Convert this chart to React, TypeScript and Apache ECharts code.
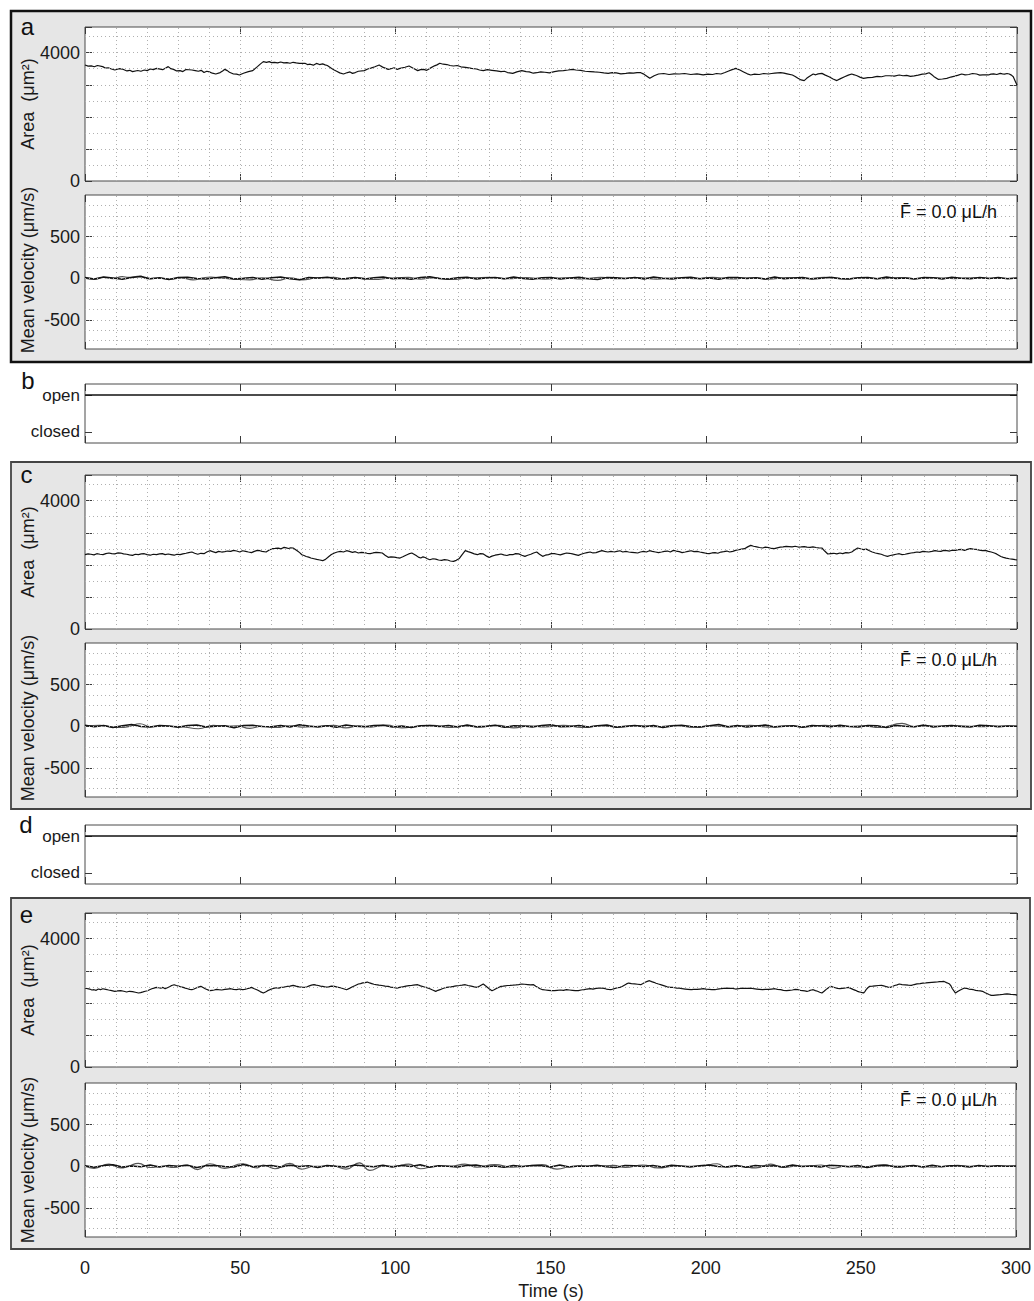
import React, { useEffect, useRef } from "react";
import * as echarts from "echarts";

// ---------- tick / label lists ----------
const TIME_TICKS = [0, 50, 100, 150, 200, 250, 300];
const TIME_MINOR = [10, 20, 30, 40, 50, 60, 70, 80, 90, 100, 110, 120, 130, 140, 150, 160, 170, 180, 190, 200, 210, 220, 230, 240, 250, 260, 270, 280, 290];
const AREA_LABELS = [0, 4000];
const AREA_MINOR = [500, 1000, 1500, 2000, 2500, 3000, 3500, 4000, 4500];
const VEL_TICKS = [-500, 0, 500];
const VEL_MINOR = [-750, -625, -500, -375, -250, -125, 0, 125, 250, 375, 500, 625, 750, 875];
const GATE_LEVELS = ["closed", "open"];
const F_LABEL = "F\u0304 = 0.0 \u03bcL/h";
const PANEL_LETTERS = ["a", "b", "c", "d", "e"];
const AREA_NAME = "Area  (\u03bcm\u00b2)";
const VEL_NAME = "Mean velocity (\u03bcm/s)";
const TIME_NAME = "Time (s)";

// ---------- data: [time s, area µm²] ----------
const areaA: [number, number][] = [
  [0, 3615], [1, 3580], [2, 3590], [3, 3560], [4, 3600], [5.7, 3565], [6.5, 3520], [7.5, 3530], [8.5, 3490], [9.6, 3460], [11, 3500], [12, 3490], [13.5, 3430], [14.4, 3450], [15.3, 3410], [17, 3445],
  [18, 3420], [19.1, 3460], [20, 3440], [21, 3490], [22, 3470], [23, 3510], [25, 3470], [26, 3520], [26.8, 3565], [27.6, 3500], [28.5, 3480], [29.5, 3430], [30.6, 3440], [31.5, 3410], [32.5, 3475], [34.4, 3460], [35.5, 3440], [36.5, 3420],
  [37.4, 3450], [38.3, 3380], [39.2, 3420], [40, 3400], [41, 3360], [42.1, 3335], [43.5, 3380], [44.3, 3430], [45, 3480], [45.8, 3440], [46.5, 3390], [47.8, 3335], [48.8, 3330], [49.7, 3305], [51, 3360], [52.6, 3410],
  [54, 3440], [55.5, 3565], [56.5, 3650], [57.4, 3720], [58.4, 3700], [59.3, 3720], [60, 3690], [61, 3700], [62, 3680], [63, 3710], [64, 3680], [65, 3690], [66, 3670], [67, 3700], [68, 3680], [69, 3665], [70.8, 3670],
  [71.6, 3630], [72.5, 3640], [73.5, 3610], [74.5, 3665], [75.5, 3630], [76.5, 3650], [77.3, 3620], [78, 3600], [79.4, 3510], [80.2, 3460], [81, 3420], [82, 3370], [83.2, 3335], [84.5, 3380], [85.3, 3400], [86.1, 3355], [87, 3380], [88, 3420],
  [89.9, 3440], [91, 3490], [92, 3520], [93.3, 3560], [94.7, 3615], [95.3, 3580], [96, 3540], [97.6, 3480], [98.5, 3500], [99.5, 3530], [100.5, 3480], [101.4, 3510], [103, 3545], [104.3, 3585], [105.5, 3520],
  [107.1, 3440], [108, 3470], [109, 3480], [110, 3450], [111, 3510], [112.5, 3590], [113.3, 3620], [114.2, 3670], [115.3, 3640], [116.5, 3630], [117.5, 3600], [118.6, 3585], [119.8, 3600], [121, 3560], [122.5, 3540], [124.4, 3510], [126, 3490],
  [127, 3460], [128.2, 3440], [129.5, 3470], [131, 3450], [132.5, 3430], [133.9, 3410], [135, 3420], [136, 3380], [137.7, 3355], [139, 3400], [140.6, 3440], [142, 3410], [143, 3400], [144.3, 3360], [145.4, 3375], [146.7, 3400], [148, 3390],
  [149.5, 3370], [151.1, 3410], [152.5, 3430], [154, 3440], [155.5, 3460], [156.9, 3480], [158, 3460], [159.5, 3450], [161, 3420], [162.6, 3410], [164, 3400], [165.5, 3390], [167, 3370], [168.4, 3355], [169.7, 3380], [171, 3370], [172.5, 3340], [174.1, 3355], [175.3, 3370], [176.5, 3360],
  [177.7, 3380], [178.9, 3375], [179.7, 3340], [180.5, 3290], [181.8, 3200], [183.2, 3280], [184.6, 3335], [186.3, 3350], [188, 3320], [189.6, 3340], [191.3, 3335], [193, 3350], [195, 3320], [197, 3340], [199, 3305], [200.5, 3330], [202, 3320],
  [203.3, 3350], [204.7, 3335], [206, 3380], [207, 3420], [208.3, 3470], [209.5, 3510], [210.8, 3460], [212, 3400], [213.2, 3340], [214.3, 3305], [215.5, 3330], [217, 3320], [218.5, 3350], [220, 3335], [221, 3350], [222, 3360], [223.9, 3375], [225, 3360], [226, 3340],
  [227.7, 3305], [228.6, 3260], [229.5, 3200], [230.5, 3150], [231.5, 3130], [232.3, 3200], [233, 3250], [234.4, 3335], [235.2, 3310], [236, 3340], [237.2, 3355], [238.3, 3300], [239.5, 3250], [240.8, 3180], [242, 3130], [243.2, 3190], [244.5, 3250], [245.7, 3300],
  [246.8, 3335], [247.6, 3310], [248.5, 3280], [249.6, 3230], [250.6, 3200], [252, 3220], [253.5, 3230], [255, 3260], [256.4, 3250], [257.7, 3280], [259, 3280], [260.5, 3270], [262.1, 3305], [263.3, 3280], [264.5, 3290], [265.7, 3260], [266.9, 3275], [268.2, 3300], [269.5, 3330], [270.6, 3340],
  [271.7, 3375], [272.5, 3320], [273.2, 3260], [274.6, 3170], [276, 3180], [277.4, 3200], [278.7, 3240], [280, 3270], [281.1, 3300], [282.2, 3335], [283.3, 3310], [284.5, 3320], [285.7, 3350], [287, 3335], [288, 3300], [289, 3310],
  [290.8, 3305], [291.6, 3330], [292.5, 3340], [293.5, 3320], [294.6, 3355], [295.3, 3340], [296, 3330], [296.8, 3350], [297.5, 3335], [298.2, 3300], [298.8, 3250], [299.4, 3120], [300, 2990],
];

const areaC: [number, number][] = [
  [0, 2316], [1, 2340], [1.9, 2330], [2.9, 2310], [3.8, 2347], [4.8, 2330], [5.8, 2320], [6.7, 2350], [7.7, 2368], [8.6, 2350], [9.6, 2340], [10.5, 2370], [11.5, 2368], [12.4, 2340], [13.4, 2330], [14.3, 2310], [15.3, 2295], [16.2, 2330], [17.2, 2320],
  [18.1, 2340], [19.1, 2347], [20, 2320], [21, 2300], [22, 2330], [23, 2316], [24, 2340], [24.9, 2350], [25.8, 2320], [26.8, 2337], [27.7, 2320], [28.7, 2300], [29.6, 2330], [30.6, 2316], [31.5, 2340], [32.5, 2360], [33.4, 2380], [34.4, 2399], [35.3, 2360], [36.3, 2330],
  [37.3, 2360], [38.3, 2347], [39.2, 2400], [40.2, 2441], [41.1, 2410], [42.1, 2380], [43, 2420], [44, 2399], [45, 2410], [45.9, 2430], [46.9, 2420], [47.8, 2451], [48.8, 2430], [49.8, 2400], [50.7, 2440], [51.7, 2420], [52.6, 2400], [53.6, 2380], [54.5, 2420], [55.5, 2451],
  [56.3, 2440], [57, 2420], [58.3, 2399], [59.3, 2460], [60.3, 2503], [61.2, 2510], [62.2, 2520], [63.1, 2500], [64.1, 2545], [64.8, 2530], [65.5, 2510], [66.2, 2530], [67, 2524], [67.7, 2480], [68.4, 2430], [69.1, 2380], [69.8, 2316], [70.5, 2290], [71.2, 2260],
  [72, 2240], [72.7, 2212], [73.7, 2190], [74.6, 2170], [75.6, 2150], [76.5, 2129], [77.4, 2170], [78.4, 2250], [79.3, 2320], [80.3, 2368], [81.2, 2400], [82.2, 2420], [83.2, 2400], [84.2, 2441], [85.1, 2420], [86.1, 2390], [87, 2410], [88, 2368], [88.9, 2390], [89.9, 2380],
  [90.8, 2360], [91.8, 2347], [92.7, 2370], [93.7, 2390], [94.7, 2380], [95.7, 2368], [96.6, 2300], [97.6, 2233], [98.5, 2250], [99.5, 2240], [100.4, 2225], [101.4, 2212], [102.3, 2250], [103.3, 2300], [104.2, 2340], [105.2, 2368], [105.9, 2330], [106.6, 2290], [107.3, 2240], [108.1, 2212],
  [108.8, 2250], [109.5, 2230], [110.2, 2190], [111, 2160], [112, 2190], [112.9, 2180], [113.8, 2150], [114.8, 2139], [115.7, 2160], [116.7, 2150], [117.6, 2120], [118.6, 2108], [119.5, 2140], [120.5, 2200], [121.4, 2320], [122.4, 2441], [123.3, 2410], [124.3, 2380], [125.3, 2340], [126.3, 2316],
  [127.2, 2350], [128.2, 2340], [129.1, 2280], [130.1, 2233], [131, 2270], [132, 2300], [133, 2320], [133.9, 2337], [134.8, 2310], [135.8, 2290], [136.7, 2320], [137.7, 2316], [138.6, 2350], [139.6, 2340], [140.6, 2300], [141.6, 2264], [142.5, 2300], [143.5, 2330], [144.4, 2370], [145.4, 2399],
  [146.3, 2330], [147.3, 2264], [148.2, 2300], [149.2, 2320], [150.1, 2350], [151.1, 2347], [152, 2330], [153, 2310], [154, 2340], [155, 2368], [155.9, 2360], [156.9, 2340], [157.8, 2320], [158.8, 2295], [159.7, 2330], [160.7, 2360], [161.6, 2380], [162.6, 2399], [163.5, 2370], [164.5, 2380],
  [165.4, 2410], [166.4, 2441], [167.3, 2420], [168.3, 2400], [169.3, 2420], [170.3, 2399], [171.2, 2420], [172.2, 2440], [173.1, 2400], [174.1, 2420], [175, 2400], [176, 2390], [177, 2380], [177.9, 2368], [178.8, 2400], [179.8, 2420], [180.7, 2400], [181.7, 2441], [182.6, 2420], [183.6, 2400],
  [184.6, 2380], [185.6, 2399], [186.5, 2420], [187.5, 2430], [188.4, 2400], [189.4, 2451], [190.3, 2430], [191.3, 2410], [192.2, 2380], [193.2, 2399], [194.1, 2420], [195.1, 2440], [196, 2410], [197, 2420], [197.9, 2400], [198.9, 2380], [199.9, 2360], [200.9, 2347], [201.8, 2370], [202.8, 2380],
  [203.7, 2360], [204.7, 2399], [205.6, 2410], [206.6, 2430], [207.5, 2400], [208.5, 2420], [209.4, 2450], [210.4, 2470], [211.3, 2490], [212.3, 2503], [213.3, 2560], [214.3, 2607], [215.2, 2580], [216.2, 2560], [217.1, 2540], [218.1, 2524], [219, 2550], [220, 2540], [221, 2510], [221.9, 2503],
  [222.8, 2530], [223.8, 2550], [224.7, 2560], [225.7, 2576], [226.6, 2570], [227.6, 2560], [228.6, 2580], [229.6, 2555], [230.5, 2560], [231.5, 2570], [232.4, 2550], [233.4, 2545], [234.3, 2560], [235.3, 2540], [236.2, 2530], [237.2, 2524], [238.1, 2430], [239.1, 2337], [240, 2350], [241, 2360],
  [242, 2340], [243, 2368], [243.9, 2350], [244.9, 2380], [245.8, 2370], [246.8, 2399], [247.7, 2460], [248.7, 2524], [249.6, 2500], [250.6, 2472], [251.5, 2490], [252.5, 2440], [253.4, 2400], [254.4, 2368], [255.3, 2350], [256.3, 2330], [257.3, 2290], [258.3, 2264], [259.2, 2290], [260.2, 2310],
  [261.1, 2330], [262.1, 2347], [263, 2320], [264, 2330], [264.9, 2350], [265.9, 2368], [266.8, 2380], [267.8, 2400], [268.7, 2390], [269.7, 2420], [270.6, 2410], [271.6, 2400], [272.6, 2420], [273.6, 2441], [274.5, 2430], [275.5, 2420], [276.4, 2450], [277.4, 2441], [278.3, 2430], [279.3, 2460],
  [280.2, 2450], [281.2, 2472], [282.1, 2480], [283.1, 2450], [284, 2480], [285, 2503], [285.9, 2490], [286.9, 2480], [287.9, 2460], [288.9, 2441], [289.8, 2450], [290.8, 2420], [291.7, 2400], [292.7, 2368], [293.4, 2340], [294.1, 2300], [294.8, 2260], [295.6, 2233], [296.5, 2210], [297.5, 2190],
  [298.4, 2180], [299.4, 2160], [300, 2150],
];

const areaE: [number, number][] = [
  [0, 2461], [0.8, 2440], [1.5, 2430], [2.2, 2400], [2.9, 2409], [3.6, 2390], [4.3, 2430], [5, 2410], [5.7, 2440], [6.7, 2420], [7.6, 2400], [8.6, 2380], [9.6, 2358], [10.5, 2370], [11.5, 2380], [12.5, 2360], [13.4, 2337], [14.3, 2360], [15.3, 2350],
  [16.2, 2330], [17.2, 2306], [17.9, 2320], [18.7, 2340], [19.4, 2360], [20.1, 2378], [20.8, 2410], [21.5, 2440], [22.2, 2460], [23, 2482], [23.7, 2470], [24.4, 2460], [25.1, 2480], [25.8, 2440], [26.5, 2470], [27.2, 2500], [27.9, 2540], [28.7, 2565], [29.4, 2540], [30.1, 2520],
  [30.8, 2500], [31.6, 2482], [32.3, 2460], [33, 2440], [33.7, 2420], [34.4, 2409], [35.1, 2430], [35.8, 2460], [36.5, 2490], [37.3, 2513], [38, 2480], [38.7, 2440], [39.4, 2410], [40.2, 2378], [40.9, 2390], [41.6, 2400], [42.3, 2420], [43, 2409], [44, 2400], [45, 2420],
  [45.9, 2430], [46.9, 2440], [47.8, 2420], [48.8, 2410], [49.7, 2430], [50.7, 2409], [51.4, 2420], [52.2, 2440], [52.9, 2460], [53.6, 2482], [54.5, 2440], [55.5, 2400], [56.4, 2350], [57.4, 2306], [58.1, 2340], [58.8, 2380], [59.5, 2410], [60.3, 2440], [61, 2460], [61.7, 2470],
  [62.4, 2460], [63.1, 2482], [64, 2490], [65, 2510], [66, 2520], [67, 2544], [67.9, 2520], [68.9, 2500], [69.8, 2490], [70.8, 2482], [71.5, 2500], [72.2, 2530], [72.9, 2550], [73.7, 2565], [74.4, 2550], [75.1, 2540], [75.8, 2520], [76.5, 2513], [77.5, 2490], [78.4, 2500],
  [79.3, 2520], [80.3, 2513], [81.2, 2490], [82.2, 2470], [83.2, 2440], [84.2, 2409], [85.1, 2450], [86.1, 2500], [87, 2540], [88, 2586], [88.7, 2600], [89.4, 2620], [90.1, 2630], [90.9, 2648], [91.6, 2620], [92.3, 2600], [93, 2580], [93.7, 2565], [94.6, 2550], [95.6, 2540],
  [96.6, 2520], [97.6, 2513], [98.3, 2490], [99, 2480], [99.7, 2470], [100.4, 2461], [101.3, 2480], [102.3, 2500], [103.3, 2520], [104.3, 2534], [105, 2540], [105.7, 2550], [106.4, 2560], [107.1, 2565], [108, 2530], [109, 2500], [110, 2470], [111, 2440], [111.9, 2400], [112.9, 2358],
  [113.6, 2390], [114.3, 2410], [115, 2440], [115.7, 2461], [116.4, 2480], [117.1, 2490], [117.8, 2500], [118.6, 2513], [119.5, 2530], [120.5, 2540], [121.4, 2550], [122.4, 2565], [123.3, 2540], [124.3, 2520], [125.3, 2500], [126.3, 2482], [127.2, 2530], [128.2, 2586], [128.9, 2530], [129.6, 2480],
  [130.3, 2420], [131, 2378], [131.7, 2410], [132.4, 2450], [133.1, 2480], [133.9, 2513], [134.6, 2520], [135.3, 2530], [136, 2540], [136.8, 2544], [137.7, 2550], [138.7, 2560], [139.6, 2570], [140.6, 2586], [141.5, 2580], [142.5, 2570], [143.4, 2560], [144.4, 2565], [145.1, 2520], [145.8, 2480],
  [146.5, 2440], [147.3, 2409], [148.2, 2400], [149.2, 2390], [150.1, 2380], [151.1, 2378], [152, 2390], [153, 2400], [154, 2390], [155, 2409], [155.9, 2400], [156.9, 2390], [157.8, 2380], [158.8, 2378], [159.7, 2400], [160.7, 2410], [161.6, 2430], [162.6, 2440], [163.5, 2430], [164.5, 2450],
  [165.4, 2460], [166.4, 2461], [167.1, 2450], [167.8, 2430], [168.5, 2420], [169.3, 2409], [170, 2430], [170.7, 2450], [171.4, 2470], [172.2, 2482], [172.9, 2510], [173.6, 2550], [174.3, 2590], [175, 2617], [175.9, 2600], [176.9, 2590], [177.9, 2580], [178.9, 2565], [179.6, 2600], [180.3, 2640],
  [181, 2670], [181.7, 2690], [182.4, 2660], [183.1, 2640], [183.8, 2610], [184.6, 2586], [185.5, 2560], [186.5, 2530], [187.4, 2500], [188.4, 2482], [189.1, 2480], [189.8, 2470], [190.5, 2460], [191.3, 2461], [192.2, 2440], [193.2, 2430], [194.1, 2420], [195.1, 2409], [196, 2420], [197, 2420],
  [198, 2430], [199, 2440], [199.9, 2430], [200.9, 2420], [201.8, 2410], [202.8, 2409], [203.7, 2430], [204.7, 2440], [205.6, 2450], [206.6, 2461], [207.5, 2450], [208.5, 2450], [209.4, 2430], [210.4, 2440], [211.3, 2460], [212.3, 2450], [213.3, 2450], [214.3, 2461], [215.2, 2440], [216.2, 2430],
  [217.1, 2420], [218.1, 2409], [219, 2420], [220, 2420], [221, 2430], [222, 2440], [222.9, 2420], [223.9, 2410], [224.8, 2390], [225.8, 2378], [226.7, 2390], [227.7, 2400], [228.6, 2420], [229.6, 2409], [230.3, 2390], [231, 2380], [231.7, 2370], [232.4, 2358], [232.9, 2370], [233.4, 2390],
  [233.9, 2400], [234.4, 2409], [235.1, 2380], [235.8, 2360], [236.5, 2330], [237.2, 2306], [237.9, 2360], [238.6, 2420], [239.3, 2470], [240.1, 2513], [240.8, 2490], [241.5, 2470], [242.2, 2450], [243, 2440], [243.7, 2450], [244.4, 2460], [245.1, 2470], [245.8, 2482], [246.5, 2450], [247.2, 2420],
  [248, 2390], [248.7, 2358], [249.2, 2340], [249.7, 2330], [250.2, 2320], [250.6, 2306], [251.1, 2360], [251.5, 2420], [252, 2470], [252.5, 2513], [253.5, 2520], [254.4, 2530], [255.4, 2540], [256.4, 2544], [257.1, 2530], [257.8, 2510], [258.5, 2490], [259.2, 2482], [259.9, 2510], [260.6, 2540],
  [261.4, 2560], [262.1, 2586], [263, 2570], [264, 2560], [265, 2550], [266, 2544], [266.9, 2570], [267.8, 2590], [268.8, 2600], [269.7, 2617], [270.7, 2620], [271.6, 2630], [272.6, 2640], [273.6, 2648], [274.3, 2650], [275, 2660], [275.7, 2660], [276.4, 2669], [276.9, 2650], [277.3, 2630],
  [277.8, 2610], [278.3, 2586], [278.8, 2520], [279.2, 2440], [279.7, 2370], [280.2, 2306], [280.9, 2350], [281.6, 2390], [282.4, 2430], [283.1, 2461], [283.8, 2450], [284.5, 2430], [285.3, 2420], [286, 2409], [286.7, 2390], [287.4, 2380], [288.2, 2370], [288.9, 2358], [289.6, 2320], [290.3, 2290],
  [291, 2260], [291.7, 2233], [292.4, 2230], [293.1, 2240], [293.9, 2250], [294.6, 2254], [295.3, 2260], [296, 2270], [296.8, 2280], [297.5, 2274], [298, 2265], [298.5, 2260], [299, 2255], [299.4, 2254], [300, 2240],
];

// ---------- mean velocity (µm/s): smoothed trace [time, value] ----------
const velSmoothA: [number, number][] = [
  [0, 0], [3, -15], [6, 10], [9, -5], [12, 20], [14, 10], [17.7, 25], [20, -5], [24, 0], [28, -10], [31, 5], [34.8, -20], [38, 5],
  [40.5, 15], [44, 0], [48, -10], [53, -20], [57, 5], [62, -25], [66, 5], [70, -20], [74, 0], [80, 10], [84, -10], [88, 5], [93, -15],
  [98, 0], [104, 10], [108, -10], [112, 5], [118, -15], [123, 0], [130, 10], [136, -5], [142, 8], [148, -10], [154, 5], [160, -8],
  [166, 10], [172, -5], [178, 8], [184, -10], [190, 5], [196, -5], [202, 10], [208, -8], [214, 5], [220, -10], [226, 8], [232, -5],
  [238, 10], [244, -8], [250, 5], [256, -6], [262, 8], [268, -5], [274, 6], [280, -4], [286, 5], [292, -3], [300, 0],
];
const velSmoothC: [number, number][] = [
  [0, 5], [4.8, 12], [8, -5], [11, -15], [14, -5], [17.7, 30], [21, -5], [26, 0], [31, -5], [36.5, -30], [41.3, 10], [45, 0], [49, 5],
  [53, -25], [57, 0], [61.6, -15], [66, 5], [70, -10], [75, 0], [80, 10], [84, -20], [88, 5], [92, -10], [97, 15], [102, -20], [107, 0],
  [112, 10], [117, -15], [122, 5], [127, -10], [133, 10], [138, -20], [143, 5], [148, -8], [154, 10], [160, -15], [166, 5], [172, -10],
  [178, 8], [184, -5], [190, 10], [196, -12], [202, 5], [208, -8], [214, 10], [220, -10], [226, 5], [232, -8], [238, 10], [244, -5],
  [250, 5], [256, -15], [263, 35], [267, -5], [272, 5], [277, -5], [282, 5], [288, -5], [294, 3], [300, 0],
];
const velSmoothE: [number, number][] = [
  [0, 0], [2.9, -25], [7.7, 25], [11.5, -20], [14, 0], [17.2, 35], [21, -15], [25, 0], [28.7, -15], [32.5, 15], [36.3, -40], [40.2, 30],
  [45, -25], [50.7, 30], [55.5, -20], [57.4, 15], [61.2, -30], [66, 35], [69.8, -35], [74, 0], [80, 0], [84.2, -35], [88.4, 40],
  [91.8, -50], [96, 0], [100, 0], [104.3, 25], [108.1, -30], [113, 0], [118, 0], [122.4, 25], [126.3, -10], [132, 20], [137.7, -10],
  [142, 0], [147.3, 20], [152.1, -35], [157, 0], [165, 0], [170.3, 10], [174.1, -15], [179.8, 15], [184.6, -20], [190, 0], [198, 0],
  [203.7, 30], [206.6, -10], [211, 0], [216.2, -20], [221, 25], [224.8, -15], [229, 0], [233, 0], [237.2, 15], [241, -25], [245, 0],
  [248.7, -10], [253, 0], [257.3, 20], [262.1, -15], [266, 0], [273.6, -10], [277, 0], [281.2, 10], [285, 0], [300, 0],
];

// ---------- mean velocity (µm/s): raw trace, one value every 3 s ----------
const velRawA = [8, -10, 15, 3, -12, 10, 20, -5, 5, -15, 8, 12, -3, -10, 5, 18, -8, 0, 10, -12, 5, 15, -5, -18, 8, 3, 12, -8, -3, 10, -10, 5, 15, -5, 0, -12, 8, 18, -3, -8, 5, 12, -10, 3, 8, -5, 15, -3, -12, 5, 10, -8, 3, 12, -5, -15, 8, 5, -3, 10, -8, 15, 0, -10, 5, 12, -5, 3, -12, 8, 10, -3, 5, -8, 15, -5, 3, 8, -10, 0, 12, -3, -8, 5, 10, -5, 15, -3, 3, -10, 8, 5, -8, 12, 0, -5, 10, -3, 8, -5, 3];
const velRawC = [12, -5, 8, -15, 5, 20, -3, -10, 8, 3, -12, 10, 15, -8, 0, 5, -18, 8, 12, -3, -5, 10, -10, 18, 3, -8, 5, -12, 15, 0, -5, 8, 12, -10, 3, -15, 5, 10, -3, 8, -8, 15, -5, 0, 12, -12, 5, 3, -10, 8, 18, -5, -3, 10, -8, 5, 15, -12, 0, 8, -5, 10, -15, 3, 12, -3, -8, 5, 20, -5, 8, -10, 3, 15, -8, 0, 5, -12, 10, 3, -5, 12, -3, -10, 8, 5, -15, 10, 0, -5, 15, -8, 3, 8, -3, -10, 12, 5, -5, 3, 0];
const velRawE = [5, -12, 10, 18, -8, 3, -5, 15, -10, 8, 0, 12, -15, 5, 10, -3, -8, 20, -5, 3, 8, -10, 12, -3, 5, -15, 10, 0, -8, 15, 3, -5, 12, -10, 8, -3, 18, -12, 5, 0, -8, 10, 15, -5, 3, -12, 8, -3, 10, 5, -10, 15, -8, 3, 0, 12, -5, -15, 8, 5, -3, 10, -8, 12, 3, -10, 5, 15, -3, -5, 8, -12, 10, 0, 5, -8, 15, -3, 3, -10, 12, 5, -5, 8, -15, 3, 10, -3, 0, 8, -8, 12, -5, 5, 3, -10, 8, -3, 5, 0, 3];

// ---------- valve state (1 = open) ----------
const gateB: [number, number][] = [[0, 1], [300, 1]];
const gateD: [number, number][] = [[0, 1], [300, 1]];

// ---------- layout ----------
const FONT = "'Liberation Sans', Arial, Helvetica, sans-serif";
const GL = 85;
const GW = 932;
type Kind = "area" | "vel" | "gate";
const GRIDS: { top: number; h: number; kind: Kind }[] = [
  { top: 27, h: 154, kind: "area" },
  { top: 195, h: 154, kind: "vel" },
  { top: 384, h: 59, kind: "gate" },
  { top: 475, h: 154, kind: "area" },
  { top: 643, h: 154, kind: "vel" },
  { top: 825, h: 59, kind: "gate" },
  { top: 913, h: 154, kind: "area" },
  { top: 1083, h: 154, kind: "vel" },
];

const rawToPairs = (arr: number[]): [number, number][] =>
  arr.map((v, i) => [(i * 300) / (arr.length - 1), v]);

function buildOption() {
  const grid = GRIDS.map((g) => ({
    left: GL,
    top: g.top,
    width: GW,
    height: g.h,
    show: true,
    backgroundColor: "#ffffff",
    borderColor: "#4a4a4a",
    borderWidth: 1,
    containLabel: false,
  }));

  const tickStyle = { inside: true, length: 7, lineStyle: { color: "#3a3a3a", width: 1 } };
  const xAxis: any[] = [];
  const yAxis: any[] = [];
  GRIDS.forEach((g, gi) => {
    const last = gi === GRIDS.length - 1;
    ["bottom", "top"].forEach((pos) => {
      xAxis.push({
        type: "value",
        gridIndex: gi,
        position: pos,
        min: TIME_TICKS[0],
        max: TIME_TICKS[TIME_TICKS.length - 1],
        interval: 50,
        axisLine: { show: false, onZero: false },
        axisTick: tickStyle,
        splitLine: { show: false },
        axisLabel: {
          show: last && pos === "bottom",
          margin: 22,
          fontSize: 18,
          color: "#1a1a1a",
          fontFamily: FONT,
        },
      });
    });
    ["left", "right"].forEach((pos) => {
      const base: any = {
        type: "value",
        gridIndex: gi,
        position: pos,
        axisLine: { show: false, onZero: false },
        splitLine: { show: false },
      };
      const lbl = { show: pos === "left", margin: 5, fontSize: 18, color: "#1a1a1a", fontFamily: FONT };
      if (g.kind === "area") {
        Object.assign(base, {
          min: 0,
          max: 4800,
          interval: 1000,
          axisTick: tickStyle,
          axisLabel: { ...lbl, formatter: (v: number) => (AREA_LABELS.includes(v) ? String(v) : "") },
        });
      } else if (g.kind === "vel") {
        Object.assign(base, {
          min: -850,
          max: 1000,
          axisTick: { ...tickStyle, customValues: VEL_TICKS },
          axisLabel: { ...lbl, customValues: VEL_TICKS },
        });
      } else {
        Object.assign(base, {
          min: -0.3,
          max: 1.3,
          axisTick: { ...tickStyle, customValues: [0, 1] },
          axisLabel: { ...lbl, fontSize: 17, customValues: [0, 1], formatter: (v: number) => GATE_LEVELS[Math.round(v)] },
        });
      }
      yAxis.push(base);
    });
  });

  const series: any[] = [];
  const lineBase = {
    type: "line",
    showSymbol: false,
    symbol: "none",
    silent: true,
    animation: false,
    emphasis: { disabled: true },
  };
  const dotted = (gi: number, ys: number[]) => ({
    ...lineBase,
    xAxisIndex: 2 * gi,
    yAxisIndex: 2 * gi,
    data: [],
    z: 1,
    markLine: {
      silent: true,
      animation: false,
      symbol: ["none", "none"],
      label: { show: false },
      emphasis: { disabled: true },
      lineStyle: { type: [1, 3], color: "#b0b0b0", width: 1 },
      data: [...TIME_MINOR.map((x) => ({ xAxis: x })), ...ys.map((y) => ({ yAxis: y }))],
    },
  });
  const trace = (gi: number, data: [number, number][], color: string, width: number, smooth = false) => ({
    ...lineBase,
    xAxisIndex: 2 * gi,
    yAxisIndex: 2 * gi,
    data,
    smooth,
    z: 3,
    lineStyle: { color, width },
  });

  const areaSets = [areaA, areaC, areaE];
  const smoothSets = [velSmoothA, velSmoothC, velSmoothE];
  const rawSets = [velRawA, velRawC, velRawE];
  [0, 3, 6].forEach((gi, k) => {
    series.push(dotted(gi, AREA_MINOR));
    series.push(trace(gi, areaSets[k], "#111", 1.2));
    series.push(dotted(gi + 1, VEL_MINOR));
    series.push(trace(gi + 1, smoothSets[k], "#555", 1.2, true));
    series.push(trace(gi + 1, rawToPairs(rawSets[k]), "#111", 1.5));
  });
  series.push(trace(2, gateB, "#111", 1.5));
  series.push(trace(5, gateD, "#111", 1.5));

  // ---------- frames and texts ----------
  const boxes = [
    { x: 11, y: 11, w: 1020, h: 351, stroke: "#111", lw: 2.5 },
    { x: 11, y: 462, w: 1020, h: 347, stroke: "#444", lw: 1.8 },
    { x: 11, y: 898, w: 1019, h: 351, stroke: "#444", lw: 1.8 },
  ];
  const graphic: any[] = boxes.map((b) => ({
    type: "rect",
    z: -10,
    silent: true,
    shape: { x: b.x, y: b.y, width: b.w, height: b.h },
    style: { fill: "#e6e6e6", stroke: b.stroke, lineWidth: b.lw },
  }));
  const letterPos = [
    [27.5, 26],
    [28, 380],
    [26.5, 474.5],
    [26, 824.5],
    [26.5, 914.5],
  ];
  PANEL_LETTERS.forEach((t, i) =>
    graphic.push({
      type: "text",
      z: 10,
      silent: true,
      x: letterPos[i][0],
      y: letterPos[i][1],
      style: { text: t, fontSize: 24, fontFamily: FONT, fill: "#111", align: "center", verticalAlign: "middle" },
    })
  );
  const nameY = [
    [104, AREA_NAME],
    [270, VEL_NAME],
    [552, AREA_NAME],
    [718, VEL_NAME],
    [990, AREA_NAME],
    [1160, VEL_NAME],
  ];
  nameY.forEach(([y, t]) =>
    graphic.push({
      type: "text",
      z: 10,
      silent: true,
      x: 28,
      y: y as number,
      rotation: Math.PI / 2,
      style: { text: t as string, fontSize: 18, fontFamily: FONT, fill: "#1a1a1a", align: "center", verticalAlign: "middle" },
    })
  );
  [195, 643, 1083].forEach((top) =>
    graphic.push({
      type: "text",
      z: 10,
      silent: true,
      x: 997,
      y: top + 17,
      style: { text: F_LABEL, fontSize: 18, fontFamily: FONT, fill: "#111", align: "right", verticalAlign: "middle" },
    })
  );
  graphic.push({
    type: "text",
    z: 10,
    silent: true,
    x: 551,
    y: 1291,
    style: { text: TIME_NAME, fontSize: 18, fontFamily: FONT, fill: "#1a1a1a", align: "center", verticalAlign: "middle" },
  });

  return {
    animation: false,
    backgroundColor: "#ffffff",
    textStyle: { fontFamily: FONT },
    grid,
    xAxis,
    yAxis,
    series,
    graphic: { elements: graphic },
  };
}

export default function App() {
  const ref = useRef<HTMLDivElement>(null);
  useEffect(() => {
    document.body.style.margin = "0";
    if (!ref.current) return;
    const chart = echarts.init(ref.current, undefined, { renderer: "svg" });
    chart.setOption(buildOption() as any);
    return () => chart.dispose();
  }, []);
  return <div ref={ref} style={{ width: 1034, height: 1301 }} />;
}
